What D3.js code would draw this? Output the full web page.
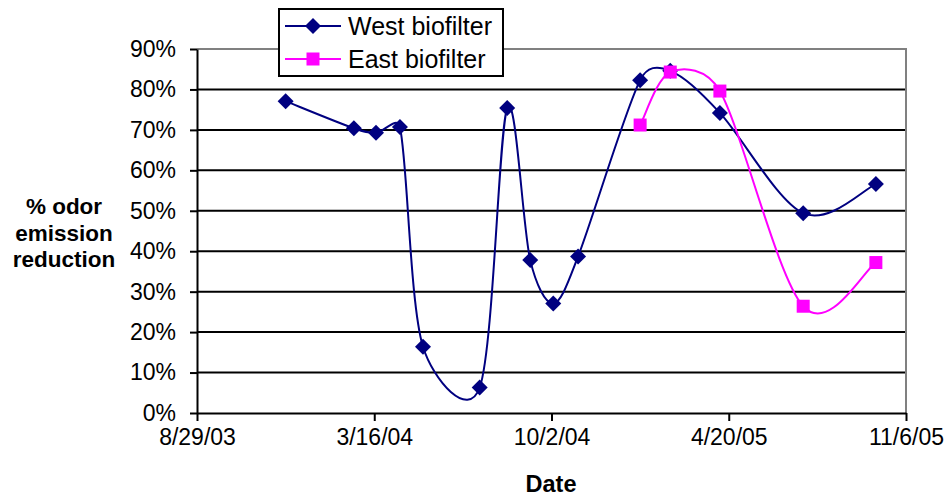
<!DOCTYPE html>
<html>
<head>
<meta charset="utf-8">
<script src="https://cdn.jsdelivr.net/npm/d3@7"></script>
<style>
    body { margin: 0; background: #fff; }
    svg { font-family: "Liberation Sans", Arial, sans-serif; }
</style>
</head>
<body>
<svg id="svg" width="944" height="497"></svg>
<script>
// Data
const westDates = ['2003-12-07', '2004-02-22', '2004-03-18', '2004-04-14', '2004-05-10', '2004-07-13',
    '2004-08-13', '2004-09-08', '2004-10-04', '2004-11-01', '2005-01-10', '2005-02-13',
    '2005-04-10', '2005-07-13', '2005-10-03']
const westValues = [77.1, 70.4, 69.3, 70.7, 16.4, 6.3, 75.4, 37.8, 27.1, 38.7, 82.3, 84.6, 74.2, 49.4, 56.6]

const eastDates = ['2005-01-10', '2005-02-13', '2005-04-10', '2005-07-13', '2005-10-03']
const eastValues = [71.2, 84.3, 79.6, 26.4, 37.2]

const xTickDates = ['2003-08-29', '2004-03-16', '2004-10-02', '2005-04-20', '2005-11-06']
const yTicks = [0, 10, 20, 30, 40, 50, 60, 70, 80, 90]

const parse = d3.timeParse('%Y-%m-%d')

// Excel-like smoothed line: bezier with tangents (P[i+1]-P[i-1])/6, capped to half the segment length
const smoothPath = (pts) => {
    const p = d3.path()
    const n = pts.length
    const at = (i) => pts[Math.max(0, Math.min(n - 1, i))]
    const offset = (i, segLen, sign) => {
        const a = at(i - 1), b = at(i + 1)
        let dx = (b[0] - a[0]) / 6, dy = (b[1] - a[1]) / 6
        const len = Math.hypot(dx, dy)
        if (len > segLen / 2 && len > 0) {
            dx *= segLen / 2 / len
            dy *= segLen / 2 / len
        }
        return [pts[i][0] + sign * dx, pts[i][1] + sign * dy]
    }
    p.moveTo(pts[0][0], pts[0][1])
    for (let i = 0; i < n - 1; i++) {
        const segLen = Math.hypot(pts[i + 1][0] - pts[i][0], pts[i + 1][1] - pts[i][1])
        const c1 = offset(i, segLen, 1)
        const c2 = offset(i + 1, segLen, -1)
        p.bezierCurveTo(c1[0], c1[1], c2[0], c2[1], pts[i + 1][0], pts[i + 1][1])
    }
    return p.toString()
}

const drawChart = () => {
    const margin = { top: 49, right: 38, bottom: 84, left: 197 }
    const width = 944
    const height = 497
    const svg = d3.select('#svg')

    const xScale = d3.scaleTime()
        .domain([parse(xTickDates[0]), parse(xTickDates[xTickDates.length - 1])])
        .range([margin.left, width - margin.right])

    const yScale = d3.scaleLinear()
        .domain([0, 90])
        .range([height - margin.bottom, margin.top])

    // Gridlines
    svg.append('g')
        .selectAll('line')
        .data(yTicks.slice(1, -1))
        .join('line')
        .attr('x1', margin.left)
        .attr('x2', width - margin.right)
        .attr('y1', (d) => yScale(d))
        .attr('y2', (d) => yScale(d))
        .attr('stroke', '#000')
        .attr('stroke-width', 2)

    // Plot area border (top / right)
    svg.append('path')
        .attr('d', `M${margin.left},${yScale(90)}H${width - margin.right}V${yScale(0)}`)
        .attr('fill', 'none')
        .attr('stroke', '#808080')
        .attr('stroke-width', 2)

    // Axes
    const fmt = (d) => `${d.getMonth() + 1}/${d.getDate()}/${String(d.getFullYear()).slice(2)}`
    const xAxis = svg.append('g')
        .attr('transform', `translate(0,${height - margin.bottom})`)
        .call(d3.axisBottom(xScale)
            .tickValues(xTickDates.map(parse))
            .tickFormat(fmt)
            .tickSize(8)
            .tickSizeOuter(0)
            .tickPadding(8))
    xAxis.selectAll('line, path').attr('stroke', '#000').attr('stroke-width', 2)
    xAxis.selectAll('text').attr('font-size', 23).attr('fill', '#000').attr('font-family', null)

    const yAxis = svg.append('g')
        .attr('transform', `translate(${margin.left},0)`)
        .call(d3.axisLeft(yScale)
            .tickValues(yTicks)
            .tickFormat((d) => `${d}%`)
            .tickSize(7)
            .tickSizeOuter(0)
            .tickPadding(14))
    yAxis.selectAll('line, path').attr('stroke', '#000').attr('stroke-width', 2)
    yAxis.selectAll('text').attr('font-size', 23).attr('fill', '#000').attr('font-family', null)

    // Axis titles
    svg.append('text')
        .attr('x', 551)
        .attr('y', 492)
        .attr('text-anchor', 'middle')
        .attr('font-size', 23.5)
        .attr('font-weight', 'bold')
        .text('Date')

    const yTitle = svg.append('text')
        .attr('text-anchor', 'middle')
        .attr('font-size', 22.5)
        .attr('font-weight', 'bold')
    ;['% odor', 'emission', 'reduction'].forEach((t, i) => {
        yTitle.append('tspan').attr('x', 64).attr('y', 214 + i * 26.5).text(t)
    })

    // Series
    const west = westDates.map((d, i) => [xScale(parse(d)), yScale(westValues[i])])
    const east = eastDates.map((d, i) => [xScale(parse(d)), yScale(eastValues[i])])

    const diamond = 'M0,-8L8,0L0,8L-8,0Z'

    svg.append('path')
        .attr('d', smoothPath(west)).attr('fill', 'none').attr('stroke', '#000080').attr('stroke-width', 2)
    svg.append('g').selectAll('path').data(west).join('path')
        .attr('d', diamond)
        .attr('transform', (d) => `translate(${d[0]},${d[1]})`)
        .attr('fill', '#000080')

    svg.append('path')
        .attr('d', smoothPath(east)).attr('fill', 'none').attr('stroke', '#FF00FF').attr('stroke-width', 2)
    svg.append('g').selectAll('rect').data(east).join('rect')
        .attr('x', (d) => d[0] - 6.5)
        .attr('y', (d) => d[1] - 6.5)
        .attr('width', 13).attr('height', 13)
        .attr('fill', '#FF00FF')

    // Legend
    const legend = svg.append('g')
    legend.append('rect')
        .attr('x', 279).attr('y', 9).attr('width', 224).attr('height', 67)
        .attr('fill', '#fff').attr('stroke', '#000').attr('stroke-width', 2)
    const items = [
        { name: 'West biofilter', color: '#000080', shape: 'diamond', y: 26 },
        { name: 'East biofilter', color: '#FF00FF', shape: 'square', y: 59 },
    ]
    items.forEach((it) => {
        legend.append('line')
            .attr('x1', 285).attr('x2', 341).attr('y1', it.y).attr('y2', it.y)
            .attr('stroke', it.color).attr('stroke-width', 2)
        if (it.shape === 'diamond') {
            legend.append('path').attr('d', diamond)
                .attr('transform', `translate(313,${it.y})`).attr('fill', it.color)
        } else {
            legend.append('rect').attr('x', 306.5).attr('y', it.y - 6.5)
                .attr('width', 13).attr('height', 13).attr('fill', it.color)
        }
        legend.append('text')
            .attr('x', 348).attr('y', it.y + 8.5)
            .attr('font-size', 25)
            .text(it.name)
    })
}

drawChart()
</script>
</body>
</html>
